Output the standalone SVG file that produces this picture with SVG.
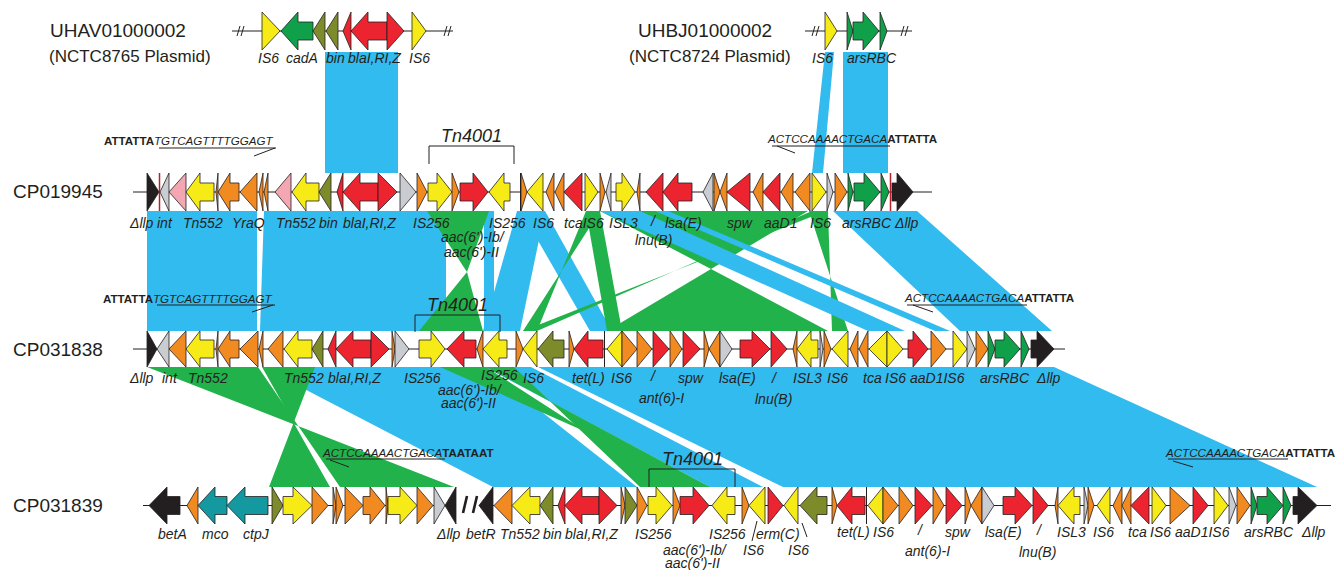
<svg xmlns="http://www.w3.org/2000/svg" width="1342" height="570" viewBox="0 0 1342 570">
<style>
.bl{fill:#32bbef}
.gn{fill:#21b24b}
polygon.y,polygon.g,polygon.o,polygon.r,polygon.or,polygon.pk,polygon.gy,polygon.k,polygon.t{stroke:#231f20;stroke-width:0.8;stroke-linejoin:miter}
.y{fill:#f6eb16}.g{fill:#10a04a}.o{fill:#7d8b2a}.r{fill:#ec2430}.or{fill:#f28a22}.pk{fill:#f3a7b2}.gy{fill:#c9ccd1}.k{fill:#231f20}.t{fill:#13999f}
.ln{stroke:#231f20;stroke-width:1;fill:none}
.lb{font-family:"Liberation Sans",Arial,sans-serif;font-style:italic;font-size:14px;fill:#231f20}
.nm{font-family:"Liberation Sans",Arial,sans-serif;font-size:19px;fill:#231f20}
.pl{font-family:"Liberation Sans",Arial,sans-serif;font-size:17px;fill:#231f20}
.sq{font-family:"Liberation Sans",Arial,sans-serif;font-size:11.6px;fill:#231f20}
.sqi{font-style:italic}
.sqb{font-weight:bold}
.tn{font-family:"Liberation Sans",Arial,sans-serif;font-style:italic;font-size:18px;fill:#231f20}
</style>

<g id="connectors">
  <!-- plasmids to CP019945 -->
  <polygon class="bl" points="325,52 398,52 398,173 325,173"/>
  <polygon class="bl" points="843,52 888,52 888,173 843,173"/>
  <polygon class="bl" points="825,52 834,52 823,173 812,173"/>
  <!-- CP019945 to CP031838 -->
  <polygon class="bl" points="147,211 257,211 257,331 147,331"/>
  <polygon class="bl" points="264,211 446,211 446,331 260,331"/>
  <polygon class="bl" points="484,211 494,211 494,331 484,331"/>
  <polygon class="bl" points="517,211 545,211 520,331 483,331"/>
  <polygon class="bl" points="521,211 545,211 612,331 590,331"/>
  <polygon class="bl" points="833,211 917,211 1052,331 960,331"/>
  <polygon class="gn" points="427,211 489,211 467,272"/>
  <polygon class="gn" points="467,272 419,331 483,331"/>
  <polygon class="gn" points="586,211 600,211 523,331 537,331"/>
  <polygon class="gn" points="586,211 600,211 622,331 607,331"/>
  <polygon class="gn" points="600,211 808,211 711,269"/>
  <polygon class="gn" points="711,269 607,331 828,331"/>
  <polygon class="gn" points="809,211 828,211 832,331 848,331"/>
  <polygon class="gn" points="812,211 826,211 523,331 537,331"/>
  <polygon class="bl" points="600,211 640,211 905,331 868,331"/>
  <polygon class="bl" points="655,211 668,211 950,331 935,331"/>
  <!-- CP031838 to CP031839 -->
  <polygon class="bl" points="262,367 485,367 637,487 493,487"/>
  <polygon class="bl" points="485,367 531,367 763,487 710,487"/>
  <polygon class="bl" points="538,367 1054,367 1317,487 783,487"/>
  <polygon class="gn" points="147,367 258,367 340,487 454,487"/>
  <polygon class="gn" points="262,367 315,367 269,487 330,487"/>
  <polygon class="gn" points="440,367 486,367 672,487 710,487"/>
  <polygon class="gn" points="486,367 514,367 640,487 710,487"/>
</g>

<g id="UHAV01000002">
  <text class="nm" x="50" y="37">UHAV01000002</text>
  <text class="pl" x="49" y="62">(NCTC8765 Plasmid)</text>
  <line class="ln" x1="232" y1="31" x2="453" y2="31"/>
  <line class="ln" x1="237" y1="36" x2="240" y2="26"/><line class="ln" x1="241" y1="36" x2="244" y2="26"/>
  <line class="ln" x1="444" y1="36" x2="447" y2="26"/><line class="ln" x1="448" y1="36" x2="451" y2="26"/>
  <polygon class="y" points="262,12 280,31 262,50"/>
  <polygon class="g" points="313,22 298,22 298,12 281,31 298,50 298,40 313,40"/>
  <polygon class="o" points="325,12 313,31 325,50"/>
  <polygon class="o" points="338,12 326,31 338,50"/>
  <polygon class="r" points="351,12 343,31 351,50"/>
  <polygon class="r" points="387,22 368,22 368,12 351,31 368,50 368,40 387,40"/>
  <polygon class="r" points="387,12 404,31 387,50"/>
  <polygon class="y" points="412,12 426,31 412,50"/>
  <text class="lb" x="258" y="63">IS6</text>
  <text class="lb" x="286" y="63">cadA</text>
  <text class="lb" x="326" y="63">bin</text>
  <text class="lb" x="348" y="63">blaI,RI,Z</text>
  <text class="lb" x="409" y="63">IS6</text>
</g>

<g id="UHBJ01000002">
  <text class="nm" x="638" y="37">UHBJ01000002</text>
  <text class="pl" x="629" y="62">(NCTC8724 Plasmid)</text>
  <line class="ln" x1="805" y1="31" x2="912" y2="31"/>
  <line class="ln" x1="812" y1="36" x2="815" y2="26"/><line class="ln" x1="816" y1="36" x2="819" y2="26"/>
  <line class="ln" x1="901" y1="36" x2="904" y2="26"/><line class="ln" x1="905" y1="36" x2="908" y2="26"/>
  <polygon class="y" points="825,12 837,31 825,50"/>
  <polygon class="g" points="847,12 853,31 847,50"/>
  <polygon class="g" points="853,22 863,22 863,12 879,31 863,50 863,40 853,40"/>
  <polygon class="g" points="880,12 887,31 880,50"/>
  <text class="lb" x="812" y="63">IS6</text>
  <text class="lb" x="847" y="63">arsRBC</text>
</g>

<g id="CP019945">
  <text class="nm" x="13" y="198">CP019945</text>
  <text class="sq" x="104" y="145"><tspan class="sqb">ATTATTA</tspan><tspan class="sqi">TGTCAGTTTTGGAGT</tspan></text>
  <line class="ln" x1="159" y1="148" x2="276" y2="148"/><line class="ln" x1="254" y1="156" x2="275" y2="148"/>
  <text class="sq" x="768" y="143"><tspan class="sqi">ACTCCAAAACTGACA</tspan><tspan class="sqb">ATTATTA</tspan></text>
  <line class="ln" x1="772" y1="146" x2="890" y2="146"/><line class="ln" x1="777" y1="146" x2="795" y2="153"/>
  <text class="tn" x="441" y="142">Tn4001</text>
  <polyline class="ln" points="429,164 429,146 514,146 514,164"/>
  <line class="ln" x1="133" y1="192" x2="932" y2="192"/>
  <polygon class="k" points="147,173 159,192 147,211"/>
  <line x1="159.5" y1="173" x2="159.5" y2="211" stroke="#b5202a" stroke-width="1.5"/>
  <polygon class="gy" points="169,173 160,192 169,211"/>
  <polygon class="pk" points="186,173 169,192 186,211"/>
  <polygon class="y" points="214,183 200,183 200,173 186,192 200,211 200,201 214,201"/>
  <polygon class="or" points="218,173 216,192 218,211"/>
  <polygon class="or" points="239,183 230,183 230,173 218,192 230,211 230,201 239,201"/>
  <polygon class="or" points="257,173 240,192 257,211"/>
  <polygon class="or" points="263,173 259,192 263,211"/>
  <polygon class="or" points="268,173 264,192 268,211"/>
  <polygon class="pk" points="291,173 275,192 291,211"/>
  <polygon class="y" points="319,183 306,183 306,173 292,192 306,211 306,201 319,201"/>
  <polygon class="o" points="331,173 319,192 331,211"/>
  <polygon class="r" points="343,173 337,192 343,211"/>
  <polygon class="r" points="378,183 360,183 360,173 343,192 360,211 360,201 378,201"/>
  <polygon class="r" points="378,173 397,192 378,211"/>
  <polygon class="gy" points="400,173 416,192 400,211"/>
  <polygon class="or" points="417,173 427,192 417,211"/>
  <polygon class="y" points="428,183 437,183 437,173 452,192 437,211 437,201 428,201"/>
  <polygon class="or" points="452,173 459,192 452,211"/>
  <polygon class="r" points="460,183 473,183 473,173 488,192 473,211 473,201 460,201"/>
  <polygon class="y" points="510,183 504,183 504,173 489,192 504,211 504,201 510,201"/>
  <line class="ln" x1="520.5" y1="173" x2="520.5" y2="211"/>
  <polygon class="or" points="521,173 527,192 521,211"/>
  <polygon class="y" points="543,173 527,192 543,211"/>
  <polygon class="or" points="554,173 546,192 554,211"/>
  <polygon class="or" points="564,173 555,192 564,211"/>
  <polygon class="r" points="582,173 564,192 582,211"/>
  <polygon class="y" points="585,173 598,192 585,211"/>
  <polygon class="or" points="600,173 605,192 600,211"/>
  <polygon class="gy" points="611,173 606,192 611,211"/>
  <polygon class="y" points="616,183 622,183 622,173 635,192 622,211 622,201 616,201"/>
  <polygon class="or" points="640,173 637,192 640,211"/>
  <polygon class="r" points="663,173 646,192 663,211"/>
  <polygon class="r" points="692,183 678,183 678,173 663,192 678,211 678,201 692,201"/>
  <polygon class="gy" points="713,173 703,192 713,211"/>
  <polygon class="or" points="714,173 720,192 714,211"/>
  <polygon class="or" points="727,173 720,192 727,211"/>
  <polygon class="r" points="750,173 727,192 750,211"/>
  <polygon class="or" points="763,173 753,192 763,211"/>
  <polygon class="r" points="780,173 763,192 780,211"/>
  <polygon class="or" points="793,173 781,192 793,211"/>
  <polygon class="or" points="810,173 795,192 810,211"/>
  <polygon class="y" points="812,173 826,192 812,211"/>
  <polygon class="gy" points="827,173 833,192 827,211"/>
  <polygon class="or" points="835,173 847,192 835,211"/>
  <polygon class="g" points="848,173 853,192 848,211"/>
  <polygon class="g" points="854,183 864,183 864,173 880,192 864,211 864,201 854,201"/>
  <polygon class="g" points="881,173 889,192 881,211"/>
  <line x1="890.5" y1="173" x2="890.5" y2="211" stroke="#b5202a" stroke-width="1.5"/>
  <polygon class="k" points="892,183 897,183 897,173 913,192 897,211 897,201 892,201"/>
  <text class="lb" x="130" y="228">Δllp</text>
  <text class="lb" x="157" y="228">int</text>
  <text class="lb" x="183" y="228">Tn552</text>
  <text class="lb" x="232" y="228">YraQ</text>
  <text class="lb" x="276" y="228">Tn552</text>
  <text class="lb" x="319" y="228">bin</text>
  <text class="lb" x="343" y="228">blaI,RI,Z</text>
  <text class="lb" x="413" y="228">IS256</text>
  <text class="lb" x="441" y="242">aac(6')-Ib/</text>
  <text class="lb" x="444" y="257">aac(6')-II</text>
  <text class="lb" x="489" y="228">IS256</text>
  <text class="lb" x="533" y="228">IS6</text>
  <text class="lb" x="564" y="228">tcaIS6</text>
  <text class="lb" x="609" y="228">ISL3</text>
  <text class="lb" x="651" y="226">/</text>
  <text class="lb" x="665" y="228">lsa(E)</text>
  <text class="lb" x="635" y="245">lnu(B)</text>
  <text class="lb" x="727" y="228">spw</text>
  <text class="lb" x="764" y="228">aaD1</text>
  <text class="lb" x="810" y="228">IS6</text>
  <text class="lb" x="842" y="228">arsRBC</text>
  <text class="lb" x="895" y="228">Δllp</text>
</g>

<g id="CP031838">
  <text class="nm" x="13" y="356">CP031838</text>
  <text class="sq" x="103" y="303"><tspan class="sqb">ATTATTA</tspan><tspan class="sqi">TGTCAGTTTTGGAGT</tspan></text>
  <line class="ln" x1="157" y1="305" x2="275" y2="305"/><line class="ln" x1="252" y1="312" x2="273" y2="305"/>
  <text class="sq" x="905" y="302"><tspan class="sqi">ACTCCAAAACTGACA</tspan><tspan class="sqb">ATTATTA</tspan></text>
  <line class="ln" x1="907" y1="305" x2="1027" y2="305"/><line class="ln" x1="913" y1="305" x2="933" y2="312"/>
  <text class="tn" x="427" y="311">Tn4001</text>
  <polyline class="ln" points="415,332 415,315 500,315 500,332"/>
  <line class="ln" x1="133" y1="349" x2="1065" y2="349"/>
  <polygon class="k" points="147,331 157,349 147,367"/>
  <polygon class="gy" points="169,331 157,349 169,367"/>
  <polygon class="or" points="186,331 169,349 186,367"/>
  <polygon class="y" points="214,340 200,340 200,331 186,349 200,367 200,358 214,358"/>
  <polygon class="or" points="218,331 216,349 218,367"/>
  <polygon class="or" points="239,340 230,340 230,331 218,349 230,367 230,358 239,358"/>
  <polygon class="or" points="258,331 240,349 258,367"/>
  <polygon class="or" points="263,331 259,349 263,367"/>
  <polygon class="or" points="283,331 268,349 283,367"/>
  <polygon class="y" points="312,340 298,340 298,331 284,349 298,367 298,358 312,358"/>
  <polygon class="o" points="323,331 312,349 323,367"/>
  <polygon class="r" points="336,331 328,349 336,367"/>
  <polygon class="r" points="371,340 353,340 353,331 336,349 353,367 353,358 371,358"/>
  <polygon class="r" points="371,331 389,349 371,367"/>
  <polygon class="or" points="392,331 395,349 392,367"/>
  <polygon class="gy" points="395,331 409,349 395,367"/>
  <polygon class="y" points="419,340 431,340 431,331 445,349 431,367 431,358 419,358"/>
  <polygon class="r" points="476,340 464,340 464,331 447,349 464,367 464,358 476,358"/>
  <polygon class="or" points="483,331 477,349 483,367"/>
  <polygon class="y" points="507,340 499,340 499,331 483,349 499,367 499,358 507,358"/>
  <polygon class="or" points="516,331 523,349 516,367"/>
  <polygon class="y" points="537,331 523,349 537,367"/>
  <polygon class="o" points="564,340 553,340 553,331 538,349 553,367 553,358 564,358"/>
  <polygon class="or" points="569,331 574,349 569,367"/>
  <polygon class="r" points="603,340 588,340 588,331 574,349 588,367 588,358 603,358"/>
  <line class="ln" x1="604.5" y1="331" x2="604.5" y2="367"/>
  <polygon class="y" points="622,331 607,349 622,367"/>
  <polygon class="or" points="622,331 637,349 622,367"/>
  <polygon class="or" points="637,331 652,349 637,367"/>
  <polygon class="r" points="653,331 669,349 653,367"/>
  <polygon class="or" points="670,331 682,349 670,367"/>
  <polygon class="r" points="683,331 700,349 683,367"/>
  <polygon class="or" points="704,331 709,349 704,367"/>
  <polygon class="or" points="720,331 709,349 720,367"/>
  <polygon class="gy" points="720,331 732,349 720,367"/>
  <polygon class="r" points="740,340 752,340 752,331 770,349 752,367 752,358 740,358"/>
  <polygon class="r" points="771,331 787,349 771,367"/>
  <polygon class="or" points="797,331 793,349 797,367"/>
  <polygon class="y" points="818,340 811,340 811,331 797,349 811,367 811,358 818,358"/>
  <polygon class="gy" points="820,331 823,349 820,367"/>
  <polygon class="or" points="824,331 831,349 824,367"/>
  <polygon class="y" points="848,331 832,349 848,367"/>
  <polygon class="or" points="858,331 850,349 858,367"/>
  <polygon class="or" points="868,331 859,349 868,367"/>
  <polygon class="y" points="887,331 869,349 887,367"/>
  <polygon class="y" points="887,331 903,349 887,367"/>
  <polygon class="r" points="908,340 913,340 913,331 928,349 913,367 913,358 908,358"/>
  <polygon class="or" points="931,331 946,349 931,367"/>
  <polygon class="y" points="953,331 967,349 953,367"/>
  <polygon class="gy" points="967,331 975,349 967,367"/>
  <polygon class="or" points="976,331 988,349 976,367"/>
  <polygon class="g" points="988,331 995,349 988,367"/>
  <polygon class="g" points="995,340 1004,340 1004,331 1020,349 1004,367 1004,358 995,358"/>
  <polygon class="g" points="1021,331 1029,349 1021,367"/>
  <polygon class="k" points="1031,340 1037,340 1037,331 1054,349 1037,367 1037,358 1031,358"/>
  <text class="lb" x="130" y="383">Δllp</text>
  <text class="lb" x="162" y="383">int</text>
  <text class="lb" x="188" y="383">Tn552</text>
  <text class="lb" x="284" y="383">Tn552</text>
  <text class="lb" x="328" y="383">blaI,RI,Z</text>
  <text class="lb" x="404" y="383">IS256</text>
  <text class="lb" x="481" y="380">IS256</text>
  <text class="lb" x="438" y="395">aac(6')-Ib/</text>
  <text class="lb" x="441" y="408">aac(6')-II</text>
  <text class="lb" x="523" y="383">IS6</text>
  <text class="lb" x="572" y="383">tet(L)</text>
  <text class="lb" x="611" y="383">IS6</text>
  <text class="lb" x="651" y="381">/</text>
  <text class="lb" x="639" y="403">ant(6)-I</text>
  <text class="lb" x="678" y="383">spw</text>
  <text class="lb" x="719" y="383">lsa(E)</text>
  <text class="lb" x="772" y="383">/</text>
  <text class="lb" x="755" y="404">lnu(B)</text>
  <text class="lb" x="793" y="383">ISL3</text>
  <text class="lb" x="827" y="383">IS6</text>
  <text class="lb" x="863" y="383">tca</text>
  <text class="lb" x="885" y="383">IS6</text>
  <text class="lb" x="910" y="383">aaD1IS6</text>
  <text class="lb" x="980" y="383">arsRBC</text>
  <text class="lb" x="1037" y="383">Δllp</text>
</g>

<g id="CP031839">
  <text class="nm" x="13" y="512">CP031839</text>
  <text class="sq" x="323" y="457"><tspan class="sqi">ACTCCAAAACTGACA</tspan><tspan class="sqb">TAATAAT</tspan></text>
  <line class="ln" x1="326" y1="459" x2="445" y2="459"/><line class="ln" x1="330" y1="460" x2="349" y2="467"/>
  <text class="sq" x="1166" y="457"><tspan class="sqi">ACTCCAAAACTGACA</tspan><tspan class="sqb">ATTATTA</tspan></text>
  <line class="ln" x1="1168" y1="459" x2="1288" y2="459"/><line class="ln" x1="1173" y1="461" x2="1193" y2="467"/>
  <text class="tn" x="662" y="465">Tn4001</text>
  <polyline class="ln" points="649,487 649,469 735,469 735,487"/>
  <line class="ln" x1="143" y1="505.5" x2="456" y2="505.5"/>
  <line class="ln" x1="479" y1="505.5" x2="1331" y2="505.5"/>
  <line x1="467" y1="496" x2="463" y2="513" stroke="#231f20" stroke-width="2.6"/>
  <line x1="477" y1="496" x2="473" y2="513" stroke="#231f20" stroke-width="2.6"/>
  <polygon class="k" points="180,496.5 167,496.5 167,487 149,505.5 167,524 167,514.5 180,514.5"/>
  <polygon class="or" points="198,487 187,505.5 198,524"/>
  <polygon class="t" points="227,496.5 215,496.5 215,487 198,505.5 215,524 215,514.5 227,514.5"/>
  <polygon class="t" points="268,496.5 245,496.5 245,487 227,505.5 245,524 245,514.5 268,514.5"/>
  <polygon class="o" points="272,487 283,505.5 272,524"/>
  <polygon class="y" points="283,496.5 293,496.5 293,487 312,505.5 293,524 293,514.5 283,514.5"/>
  <polygon class="or" points="312,487 328,505.5 312,524"/>
  <polygon class="or" points="333,487 336,505.5 333,524"/>
  <polygon class="or" points="336,487 343,505.5 336,524"/>
  <polygon class="or" points="345,487 363,505.5 345,524"/>
  <polygon class="or" points="363,496.5 370,496.5 370,487 385,505.5 370,524 370,514.5 363,514.5"/>
  <polygon class="or" points="386,487 388,505.5 386,524"/>
  <polygon class="y" points="388,496.5 400,496.5 400,487 417,505.5 400,524 400,514.5 388,514.5"/>
  <polygon class="or" points="417,487 433,505.5 417,524"/>
  <polygon class="gy" points="434,487 445,505.5 434,524"/>
  <polygon class="k" points="456,487 445,505.5 456,524"/>
  <polygon class="k" points="493,487 479,505.5 493,524"/>
  <polygon class="or" points="512,487 494,505.5 512,524"/>
  <polygon class="y" points="540,496.5 530,496.5 530,487 512,505.5 530,524 530,514.5 540,514.5"/>
  <polygon class="o" points="553,487 540,505.5 553,524"/>
  <polygon class="r" points="565,487 558,505.5 565,524"/>
  <polygon class="r" points="599,496.5 582,496.5 582,487 565,505.5 582,524 582,514.5 599,514.5"/>
  <polygon class="r" points="599,487 617,505.5 599,524"/>
  <polygon class="or" points="621,487 625,505.5 621,524"/>
  <polygon class="o" points="625,487 637,505.5 625,524"/>
  <polygon class="or" points="637,487 647,505.5 637,524"/>
  <polygon class="y" points="648,496.5 656,496.5 656,487 672,505.5 656,524 656,514.5 648,514.5"/>
  <polygon class="or" points="673,487 680,505.5 673,524"/>
  <polygon class="r" points="680,496.5 693,496.5 693,487 709,505.5 693,524 693,514.5 680,514.5"/>
  <polygon class="y" points="735,496.5 727,496.5 727,487 712,505.5 727,524 727,514.5 735,514.5"/>
  <polygon class="or" points="742,487 749,505.5 742,524"/>
  <polygon class="y" points="765,487 749,505.5 765,524"/>
  <polygon class="r" points="768,487 783,505.5 768,524"/>
  <polygon class="y" points="798,487 784,505.5 798,524"/>
  <polygon class="o" points="827,496.5 817,496.5 817,487 800,505.5 817,524 817,514.5 827,514.5"/>
  <polygon class="or" points="832,487 837,505.5 832,524"/>
  <polygon class="r" points="865,496.5 852,496.5 852,487 837,505.5 852,524 852,514.5 865,514.5"/>
  <line class="ln" x1="866.5" y1="487" x2="866.5" y2="524"/>
  <polygon class="y" points="883,487 868,505.5 883,524"/>
  <polygon class="or" points="883,487 898,505.5 883,524"/>
  <polygon class="or" points="899,487 913,505.5 899,524"/>
  <polygon class="r" points="915,487 932,505.5 915,524"/>
  <polygon class="or" points="933,487 944,505.5 933,524"/>
  <polygon class="r" points="946,487 962,505.5 946,524"/>
  <polygon class="or" points="965,487 971,505.5 965,524"/>
  <polygon class="or" points="982,487 971,505.5 982,524"/>
  <polygon class="gy" points="982,487 994,505.5 982,524"/>
  <polygon class="r" points="1003,496.5 1015,496.5 1015,487 1032,505.5 1015,524 1015,514.5 1003,514.5"/>
  <polygon class="r" points="1033,487 1048,505.5 1033,524"/>
  <polygon class="or" points="1058,487 1055,505.5 1058,524"/>
  <polygon class="y" points="1080,496.5 1074,496.5 1074,487 1058,505.5 1074,524 1074,514.5 1080,514.5"/>
  <polygon class="gy" points="1084,487 1088,505.5 1084,524"/>
  <polygon class="or" points="1088,487 1094,505.5 1088,524"/>
  <polygon class="y" points="1110,487 1097,505.5 1110,524"/>
  <polygon class="or" points="1122,487 1113,505.5 1122,524"/>
  <polygon class="or" points="1131,487 1122,505.5 1131,524"/>
  <polygon class="r" points="1149,487 1131,505.5 1149,524"/>
  <polygon class="y" points="1152,487 1166,505.5 1152,524"/>
  <polygon class="or" points="1170,487 1190,505.5 1170,524"/>
  <polygon class="r" points="1193,487 1208,505.5 1193,524"/>
  <polygon class="y" points="1214,487 1228,505.5 1214,524"/>
  <polygon class="gy" points="1229,487 1236,505.5 1229,524"/>
  <polygon class="or" points="1237,487 1250,505.5 1237,524"/>
  <polygon class="g" points="1251,487 1257,505.5 1251,524"/>
  <polygon class="g" points="1257,496.5 1267,496.5 1267,487 1283,505.5 1267,524 1267,514.5 1257,514.5"/>
  <polygon class="g" points="1283,487 1291,505.5 1283,524"/>
  <polygon class="k" points="1293,496.5 1298,496.5 1298,487 1317,505.5 1298,524 1298,514.5 1293,514.5"/>
  <line class="ln" x1="757" y1="521" x2="752" y2="541"/>
  <line class="ln" x1="802" y1="523" x2="807" y2="537"/>
  <text class="lb" x="158" y="539">betA</text>
  <text class="lb" x="202" y="539">mco</text>
  <text class="lb" x="243" y="539">ctpJ</text>
  <text class="lb" x="437" y="539">Δllp</text>
  <text class="lb" x="466" y="539">betR</text>
  <text class="lb" x="500" y="539">Tn552</text>
  <text class="lb" x="543" y="539">bin</text>
  <text class="lb" x="565" y="539">blaI,RI,Z</text>
  <text class="lb" x="635" y="539">IS256</text>
  <text class="lb" x="709" y="539">IS256</text>
  <text class="lb" x="756" y="539">erm(C)</text>
  <text class="lb" x="663" y="555">aac(6')-Ib/</text>
  <text class="lb" x="665" y="568">aac(6')-II</text>
  <text class="lb" x="743" y="555">IS6</text>
  <text class="lb" x="788" y="555">IS6</text>
  <text class="lb" x="837" y="537">tet(L)</text>
  <text class="lb" x="873" y="537">IS6</text>
  <text class="lb" x="918" y="535">/</text>
  <text class="lb" x="905" y="556">ant(6)-I</text>
  <text class="lb" x="945" y="537">spw</text>
  <text class="lb" x="985" y="537">lsa(E)</text>
  <text class="lb" x="1037" y="535">/</text>
  <text class="lb" x="1019" y="557">lnu(B)</text>
  <text class="lb" x="1057" y="537">ISL3</text>
  <text class="lb" x="1093" y="537">IS6</text>
  <text class="lb" x="1128" y="537">tca</text>
  <text class="lb" x="1150" y="537">IS6</text>
  <text class="lb" x="1175" y="537">aaD1IS6</text>
  <text class="lb" x="1244" y="537">arsRBC</text>
  <text class="lb" x="1302" y="537">Δllp</text>
</g>
</svg>
